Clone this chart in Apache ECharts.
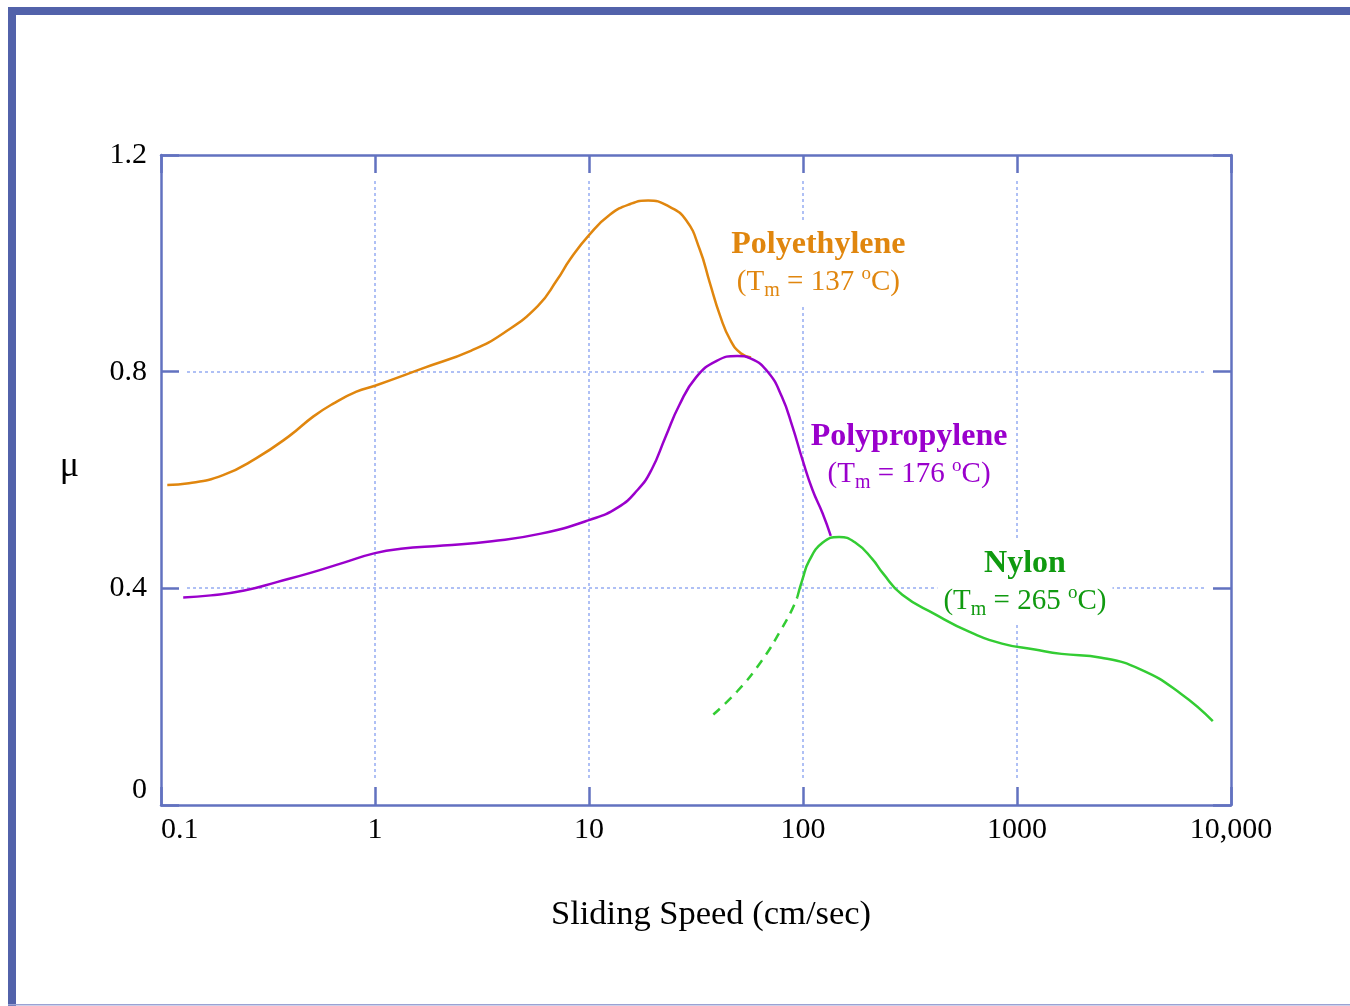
<!DOCTYPE html>
<html>
<head>
<meta charset="utf-8">
<title>Friction coefficient vs sliding speed</title>
<script src="https://cdn.jsdelivr.net/npm/echarts@6/dist/echarts.min.js"></script>
<style>
  html, body { margin: 0; padding: 0; background: #ffffff; }
  #chart { width: 1350px; height: 1006px; }
</style>
</head>
<body>
<div id="chart"></div>
<script>
// Axis ticks and labels
const xTicks = [0.1, 1, 10, 100, 1000, 10000];
const xTickLabels = ['0.1', '1', '10', '100', '1000', '10,000'];
const yTicks = [0, 0.4, 0.8, 1.2];
const yTickLabels = ['0', '0.4', '0.8', '1.2'];
const gridX = [1, 10, 100, 1000];
const gridY = [0.4, 0.8];

// Friction coefficient μ against sliding speed (cm/sec)
const polyethylene = [
  [0.107, 0.591], [0.135, 0.594], [0.195, 0.609], [0.278, 0.640], [0.397, 0.681],
  [0.514, 0.717], [0.638, 0.741], [0.819, 0.763], [1.0, 0.774], [1.67, 0.806],
  [2.82, 0.839], [3.98, 0.871], [5.76, 0.921], [7.11, 0.970], [8.15, 1.007],
  [10, 1.052], [12.55, 1.090], [15.7, 1.110], [18.9, 1.116], [23.6, 1.105],
  [28.4, 1.080], [32.9, 1.026], [36.7, 0.964], [41.0, 0.903], [45.8, 0.858],
  [51.2, 0.834], [57.2, 0.826]
];
const polypropylene = [
  [0.127, 0.383], [0.171, 0.387], [0.245, 0.396], [0.351, 0.412], [0.504, 0.429],
  [0.721, 0.448], [1.0, 0.465], [1.32, 0.473], [2.08, 0.479], [3.52, 0.487],
  [5.96, 0.501], [10, 0.526], [13.6, 0.549], [16.9, 0.582], [19.6, 0.619],
  [22.8, 0.680], [26.4, 0.738], [31.7, 0.790], [39.5, 0.820], [49.3, 0.829],
  [57.1, 0.824], [68.7, 0.799], [79.6, 0.754], [89.2, 0.699], [99.5, 0.637],
  [110.7, 0.582], [123.3, 0.539], [134.8, 0.497]
];
const nylon = [
  [94.1, 0.384], [99.5, 0.417], [106.9, 0.451], [123.3, 0.484], [147.5, 0.495],
  [176, 0.484], [211, 0.454], [235, 0.429], [291, 0.388], [415, 0.352],
  [597, 0.320], [851, 0.298], [1211, 0.287], [1615, 0.279], [2477, 0.272],
  [3794, 0.250], [5808, 0.206], [8222, 0.155]
];
const nylonExtrapolated = [
  [38.1, 0.167], [49.3, 0.210], [63.8, 0.265], [79.6, 0.326], [89.2, 0.362], [94.1, 0.384]
];

const X_MIN = 0.1, X_MAX = 10000, Y_MIN = 0, Y_MAX = 1.2;

const SERIF = 'Liberation Serif, Times New Roman, serif';
const FRAME = '#6272c0';
const GRID = '#afc0f5';
const C_PE = '#e0860e';
const C_PP = '#9a00cc';
const C_NY_LINE = '#33cc33';
const C_NY_TEXT = '#109a10';

function xLabel(v) {
  for (let i = 0; i < xTicks.length; i++) {
    if (Math.abs(Math.log10(v) - Math.log10(xTicks[i])) < 1e-6) return xTickLabels[i];
  }
  return '';
}
function yLabel(v) {
  for (let i = 0; i < yTicks.length; i++) {
    if (Math.abs(v - yTicks[i]) < 1e-6) return yTickLabels[i];
  }
  return '';
}

// Dotted grid lines that stop short of the frame and its tick marks
const GRID_INSET = 26;
function gridLineRenderer(vertical) {
  return function (params, api) {
    let a, b;
    if (vertical) {
      const v = api.value(0);
      a = api.coord([v, Y_MAX]);
      b = api.coord([v, Y_MIN]);
      a[1] += GRID_INSET; b[1] -= GRID_INSET;
      a[0] = b[0] = Math.round(a[0]);
    } else {
      const v = api.value(1);
      a = api.coord([X_MIN, v]);
      b = api.coord([X_MAX, v]);
      a[0] += GRID_INSET; b[0] -= GRID_INSET;
      a[1] = b[1] = Math.round(a[1]);
    }
    return {
      type: 'line',
      shape: { x1: a[0], y1: a[1], x2: b[0], y2: b[1] },
      style: { stroke: GRID, lineWidth: 2, lineDash: [3, 3] }
    };
  };
}

function noteRich(color) {
  return {
    b: { fontFamily: SERIF, fontWeight: 'bold', fontSize: 32, color: color, lineHeight: 40, align: 'center' },
    n: { fontFamily: SERIF, fontSize: 29, color: color, lineHeight: 36 },
    s: { fontFamily: SERIF, fontSize: 20, color: color, lineHeight: 36, verticalAlign: 'bottom' },
    o: { fontFamily: SERIF, fontSize: 19, color: color, lineHeight: 36, verticalAlign: 'top' }
  };
}
function noteSeries(point, name, temp, color) {
  return {
    type: 'scatter',
    z: 2,
    silent: true,
    symbolSize: 0,
    itemStyle: { opacity: 1 },
    data: [point],
    label: {
      show: true,
      position: 'inside',
      align: 'center',
      verticalAlign: 'middle',
      backgroundColor: '#ffffff',
      padding: [4, 6],
      opacity: 1,
      formatter: '{b|' + name + '}\n{n|(T}{s|m}{n| = ' + temp + ' }{o|o}{n|C)}',
      rich: noteRich(color)
    }
  };
}

const axisLineStyle = { color: FRAME, width: 2.5 };
const tickStyle = { show: true, inside: true, length: 18, lineStyle: { color: FRAME, width: 2.5 } };

const option = {
  animation: false,
  backgroundColor: '#ffffff',
  grid: { left: 161, right: 119, top: 155, bottom: 201, containLabel: false },
  graphic: [
    { type: 'rect', z: -10, shape: { x: 8, y: 7, width: 1342, height: 8 }, style: { fill: '#5262aa' } },
    { type: 'rect', z: -10, shape: { x: 8, y: 7, width: 8, height: 999 }, style: { fill: '#5262aa' } },
    { type: 'rect', z: -10, shape: { x: 8, y: 1004, width: 1342, height: 1.5 }, style: { fill: '#9aa2d4' } }
  ],
  xAxis: [
    {
      type: 'log', logBase: 10, min: X_MIN, max: X_MAX, position: 'bottom',
      name: 'Sliding Speed (cm/sec)', nameLocation: 'middle', nameGap: 92,
      nameTextStyle: { fontFamily: SERIF, fontSize: 34.5, color: '#000', padding: [0, 0, 0, 30] },
      axisLine: { show: true, onZero: false, lineStyle: axisLineStyle },
      axisTick: tickStyle,
      splitLine: { show: false },
      minorTick: { show: false },
      axisLabel: {
        show: true, margin: 10, fontFamily: SERIF, fontSize: 30, color: '#000',
        formatter: xLabel, alignMinLabel: 'left', alignMaxLabel: 'center'
      }
    },
    {
      type: 'log', logBase: 10, min: X_MIN, max: X_MAX, position: 'top',
      axisLine: { show: true, onZero: false, lineStyle: axisLineStyle },
      axisTick: tickStyle,
      splitLine: { show: false },
      axisLabel: { show: false }
    }
  ],
  yAxis: [
    {
      type: 'value', min: Y_MIN, max: Y_MAX, interval: 0.4, position: 'left',
      name: 'μ', nameLocation: 'middle', nameGap: 82, nameRotate: 0,
      nameTextStyle: { fontFamily: SERIF, fontSize: 36, color: '#000', verticalAlign: 'bottom', lineHeight: 26 },
      axisLine: { show: true, onZero: false, lineStyle: axisLineStyle },
      axisTick: tickStyle,
      splitLine: { show: false },
      axisLabel: {
        show: true, margin: 14, fontFamily: SERIF, fontSize: 30, color: '#000',
        formatter: yLabel, verticalAlignMinLabel: 'bottom', verticalAlignMaxLabel: 'middle'
      }
    },
    {
      type: 'value', min: Y_MIN, max: Y_MAX, interval: 0.4, position: 'right',
      axisLine: { show: true, onZero: false, lineStyle: axisLineStyle },
      axisTick: tickStyle,
      splitLine: { show: false },
      axisLabel: { show: false }
    }
  ],
  series: [
    {
      type: 'custom', z: 1, silent: true, clip: false,
      data: gridX.map(v => [v, (Y_MIN + Y_MAX) / 2]),
      renderItem: gridLineRenderer(true)
    },
    {
      type: 'custom', z: 1, silent: true, clip: false,
      data: gridY.map(v => [1, v]),
      renderItem: gridLineRenderer(false)
    },
    noteSeries([118, 1.001], 'Polyethylene', '137', C_PE),
    noteSeries([313, 0.647], 'Polypropylene', '176', C_PP),
    noteSeries([1089, 0.412], 'Nylon', '265', C_NY_TEXT),
    {
      name: 'Polyethylene', type: 'line', z: 3, data: polyethylene, smooth: 0.5,
      showSymbol: false, silent: true, lineStyle: { color: C_PE, width: 2.5 }
    },
    {
      name: 'Polypropylene', type: 'line', z: 3, data: polypropylene, smooth: 0.5,
      showSymbol: false, silent: true, lineStyle: { color: C_PP, width: 2.5 }
    },
    {
      name: 'Nylon', type: 'line', z: 3, data: nylon, smooth: 0.5,
      showSymbol: false, silent: true, lineStyle: { color: C_NY_LINE, width: 2.5 }
    },
    {
      name: 'Nylon (extrapolated)', type: 'line', z: 3, data: nylonExtrapolated, smooth: 0.5,
      showSymbol: false, silent: true, lineStyle: { color: C_NY_LINE, width: 2.5, type: [9, 7] }
    }
  ]
};

const chart = echarts.init(document.getElementById('chart'), null, { renderer: 'canvas' });
chart.setOption(option);
</script>
</body>
</html>
